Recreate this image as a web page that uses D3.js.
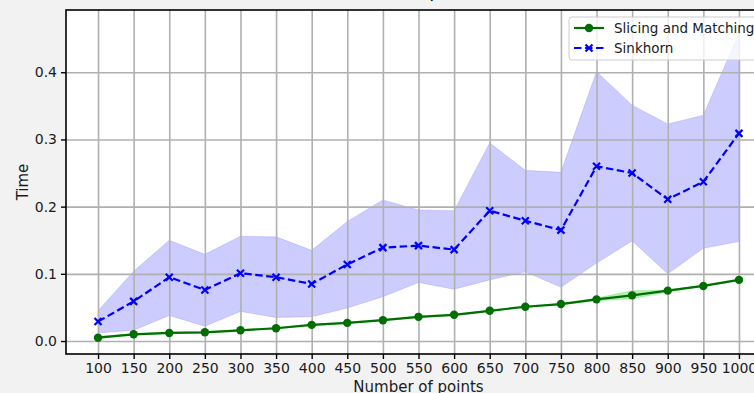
<!DOCTYPE html>
<html>
<head>
<meta charset="utf-8">
<script src="https://cdn.jsdelivr.net/npm/d3@7"></script>
<style>
  html, body { margin: 0; padding: 0; background: #f2f2f2; overflow: hidden; }
  text { font-family: "DejaVu Sans", sans-serif; }
</style>
</head>
<body>
<div id="chart"></div>
<script>
// data
var nPoints = [100, 150, 200, 250, 300, 350, 400, 450, 500, 550, 600, 650, 700, 750, 800, 850, 900, 950, 1000];

var slicingMean  = [0.005, 0.010, 0.012, 0.013, 0.016, 0.019, 0.024, 0.027, 0.031, 0.036, 0.039, 0.045, 0.051, 0.055, 0.062, 0.068, 0.075, 0.082, 0.091];
var slicingLow   = [0.004, 0.009, 0.011, 0.012, 0.015, 0.018, 0.023, 0.026, 0.030, 0.035, 0.038, 0.044, 0.050, 0.054, 0.060, 0.063, 0.073, 0.081, 0.090];
var slicingHigh  = [0.007, 0.011, 0.013, 0.014, 0.017, 0.020, 0.025, 0.028, 0.032, 0.037, 0.040, 0.046, 0.052, 0.056, 0.064, 0.075, 0.076, 0.083, 0.092];

var sinkhornMean = [0.029, 0.059, 0.095, 0.076, 0.101, 0.095, 0.085, 0.114, 0.139, 0.142, 0.136, 0.194, 0.179, 0.165, 0.260, 0.250, 0.211, 0.237, 0.309];
var sinkhornLow  = [0.012, 0.016, 0.038, 0.022, 0.044, 0.035, 0.036, 0.049, 0.066, 0.087, 0.077, 0.091, 0.103, 0.080, 0.116, 0.149, 0.100, 0.138, 0.148];
var sinkhornHigh = [0.045, 0.104, 0.150, 0.129, 0.156, 0.155, 0.135, 0.178, 0.210, 0.195, 0.194, 0.295, 0.254, 0.251, 0.401, 0.351, 0.323, 0.336, 0.458];

var yTicks = [0.0, 0.1, 0.2, 0.3, 0.4];
var seriesNames = ["Slicing and Matching", "Sinkhorn"];

(function () {
var W = 754, H = 393;
var mLeft = 66, mTop = 10, mRight = 771, mBottom = 354;

var svg = d3.select("#chart").append("svg")
  .attr("width", W).attr("height", H);

var x = d3.scaleLinear().domain([55, 1045]).range([mLeft, mRight]);
var y = d3.scaleLinear().domain([-0.0193, 0.4926]).range([mBottom, mTop]);

svg.append("rect")
  .attr("x", mLeft).attr("y", mTop)
  .attr("width", mRight - mLeft).attr("height", mBottom - mTop)
  .attr("fill", "#fff");

var plot = svg.append("g");

// bands
var area = function (lo, hi) {
  return d3.area()
    .x(function (d, i) { return x(nPoints[i]); })
    .y0(function (d, i) { return y(lo[i]); })
    .y1(function (d, i) { return y(hi[i]); })(nPoints);
};
plot.append("path").attr("d", area(sinkhornLow, sinkhornHigh))
  .attr("fill", "rgba(0,0,255,0.2)").attr("stroke", "rgba(0,0,255,0.12)").attr("stroke-width", 1);
plot.append("path").attr("d", area(slicingLow, slicingHigh))
  .attr("fill", "rgba(0,210,0,0.3)").attr("stroke", "rgba(0,210,0,0.2)").attr("stroke-width", 1);

// grid
var gridX = svg.append("g").attr("transform", "translate(0," + mBottom + ")")
  .call(d3.axisBottom(x).tickValues(nPoints).tickSize(-(mBottom - mTop)).tickFormat(""));
var gridY = svg.append("g").attr("transform", "translate(" + mLeft + ",0)")
  .call(d3.axisLeft(y).tickValues(yTicks).tickSize(-(mRight - mLeft)).tickFormat(""));
[gridX, gridY].forEach(function (g) {
  g.select(".domain").remove();
  g.selectAll("line").attr("stroke", "#b0b0b0").attr("stroke-width", 1.6);
});

// lines
var line = function (vals) {
  return d3.line()
    .x(function (d, i) { return x(nPoints[i]); })
    .y(function (d, i) { return y(vals[i]); })(nPoints);
};
svg.append("path").attr("d", line(slicingMean))
  .attr("fill", "none").attr("stroke", "#006e00").attr("stroke-width", 2.2);
svg.append("g").selectAll("circle").data(slicingMean).join("circle")
  .attr("cx", function (d, i) { return x(nPoints[i]); })
  .attr("cy", function (d) { return y(d); })
  .attr("r", 4.2).attr("fill", "#006e00");

svg.append("path").attr("d", line(sinkhornMean))
  .attr("fill", "none").attr("stroke", "#0000ff").attr("stroke-width", 2.2)
  .attr("stroke-dasharray", "7.5,3.5");
var cross = function (sel, s) {
  sel.append("path")
    .attr("d", "M" + (-s) + "," + (-s) + "L" + s + "," + s + "M" + (-s) + "," + s + "L" + s + "," + (-s))
    .attr("stroke", "#0000ff").attr("stroke-width", 2.2).attr("fill", "none");
};
svg.append("g").selectAll("g").data(sinkhornMean).join("g")
  .attr("transform", function (d, i) { return "translate(" + x(nPoints[i]) + "," + y(d) + ")"; })
  .each(function () { cross(d3.select(this), 3.5); });

// axes
var ax = svg.append("g").attr("transform", "translate(0," + mBottom + ")")
  .call(d3.axisBottom(x).tickValues(nPoints).tickSize(5).tickPadding(4).tickFormat(d3.format("d")));
var ay = svg.append("g").attr("transform", "translate(" + mLeft + ",0)")
  .call(d3.axisLeft(y).tickValues(yTicks).tickSize(5).tickPadding(4).tickFormat(d3.format(".1f")));
[ax, ay].forEach(function (g) {
  g.select(".domain").remove();
  g.selectAll("line").attr("stroke", "#000").attr("stroke-width", 1.4);
  g.selectAll("text").attr("font-size", 14).attr("fill", "#1a1a1a")
    .attr("font-family", "DejaVu Sans, sans-serif");
});

// spines
svg.append("rect")
  .attr("x", mLeft).attr("y", mTop)
  .attr("width", mRight - mLeft).attr("height", mBottom - mTop)
  .attr("fill", "none").attr("stroke", "#000").attr("stroke-width", 1.6);

// labels
svg.append("text").attr("x", (mLeft + mRight) / 2).attr("y", 392)
  .attr("text-anchor", "middle").attr("font-size", 15).attr("fill", "#1a1a1a")
  .text("Number of points");
svg.append("text")
  .attr("transform", "translate(28," + ((mTop + mBottom) / 2) + ") rotate(-90)")
  .attr("text-anchor", "middle").attr("font-size", 15).attr("fill", "#1a1a1a")
  .text("Time");
svg.append("text").attr("x", (mLeft + mRight) / 2).attr("y", -3)
  .attr("text-anchor", "middle").attr("font-size", 18).attr("fill", "#000")
  .text("Time comparison");

// legend
var lg = svg.append("g").attr("transform", "translate(569,17)");
lg.append("rect").attr("width", 200).attr("height", 43).attr("rx", 3)
  .attr("fill", "rgba(255,255,255,0.8)").attr("stroke", "#cccccc");
var row1 = lg.append("g").attr("transform", "translate(0,11)");
row1.append("line").attr("x1", 5).attr("x2", 35).attr("stroke", "#006e00").attr("stroke-width", 2.2);
row1.append("circle").attr("cx", 20).attr("r", 4.2).attr("fill", "#006e00");
row1.append("text").attr("x", 45).attr("dy", "0.35em").attr("font-size", 13.5).attr("fill", "#1a1a1a").text(seriesNames[0]);
var row2 = lg.append("g").attr("transform", "translate(0,31)");
row2.append("line").attr("x1", 5).attr("x2", 35).attr("stroke", "#0000ff").attr("stroke-width", 2.2)
  .attr("stroke-dasharray", "7.5,3.5");
row2.append("g").attr("transform", "translate(20,0)").call(cross, 3.5);
row2.append("text").attr("x", 45).attr("dy", "0.35em").attr("font-size", 13.5).attr("fill", "#1a1a1a").text(seriesNames[1]);
})();
</script>
</body>
</html>
